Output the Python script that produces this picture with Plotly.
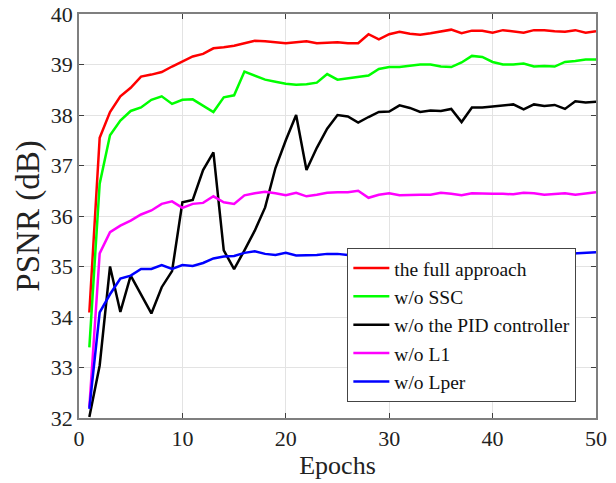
import plotly.graph_objects as go

epochs = list(range(1, 51))

full_approach = [34.09, 37.55, 38.06, 38.37, 38.54, 38.76, 38.80, 38.85, 38.96, 39.06,
                 39.16, 39.21, 39.32, 39.34, 39.37, 39.42, 39.47, 39.46, 39.44, 39.42,
                 39.44, 39.46, 39.42, 39.43, 39.44, 39.42, 39.42, 39.60, 39.50, 39.60,
                 39.65, 39.61, 39.59, 39.62, 39.65, 39.69, 39.62, 39.67, 39.67, 39.63,
                 39.68, 39.65, 39.63, 39.68, 39.68, 39.66, 39.65, 39.68, 39.63, 39.66]

wo_ssc = [33.40, 36.64, 37.60, 37.89, 38.08, 38.15, 38.30, 38.37, 38.22, 38.30,
          38.31, 38.18, 38.06, 38.35, 38.39, 38.86, 38.78, 38.70, 38.66, 38.62,
          38.60, 38.61, 38.64, 38.81, 38.70, 38.73, 38.76, 38.78, 38.91, 38.95,
          38.95, 38.98, 39.00, 39.00, 38.96, 38.95, 39.04, 39.17, 39.15, 39.05,
          39.00, 39.00, 39.02, 38.96, 38.97, 38.96, 39.05, 39.07, 39.10, 39.10]

wo_pid = [32.02, 33.04, 35.00, 34.10, 34.82, 34.45, 34.07, 34.59, 34.91, 36.27,
          36.32, 36.91, 37.26, 35.32, 34.95, 35.32, 35.71, 36.17, 36.95, 37.50,
          38.00, 36.91, 37.35, 37.73, 38.00, 37.97, 37.85, 37.96, 38.06, 38.07,
          38.19, 38.14, 38.06, 38.09, 38.08, 38.12, 37.86, 38.15, 38.15, 38.17,
          38.19, 38.21, 38.11, 38.21, 38.18, 38.20, 38.12, 38.27, 38.25, 38.26]

wo_l1 = [32.21, 35.26, 35.68, 35.81, 35.91, 36.03, 36.11, 36.24, 36.29, 36.16,
         36.24, 36.26, 36.39, 36.27, 36.24, 36.41, 36.45, 36.48, 36.45, 36.41,
         36.46, 36.39, 36.42, 36.46, 36.47, 36.47, 36.50, 36.36, 36.42, 36.45,
         36.41, 36.42, 36.42, 36.42, 36.46, 36.44, 36.41, 36.45, 36.44, 36.44,
         36.44, 36.43, 36.46, 36.45, 36.42, 36.44, 36.45, 36.42, 36.45, 36.47]

wo_lper = [32.18, 34.09, 34.45, 34.76, 34.82, 34.95, 34.95, 35.03, 34.95, 35.03,
           35.01, 35.07, 35.16, 35.20, 35.21, 35.27, 35.30, 35.25, 35.23, 35.27,
           35.22, 35.22, 35.23, 35.25, 35.25, 35.23, 35.22, 35.22, 35.23, 35.22,
           35.23, 35.23, 35.22, 35.23, 35.24, 35.24, 35.25, 35.23, 35.23, 35.23,
           35.24, 35.22, 35.25, 35.23, 35.25, 35.24, 35.25, 35.25, 35.26, 35.28]

series_names = ["the full approach", "w/o SSC", "w/o the PID controller", "w/o L1", "w/o Lper"]
series_values = [full_approach, wo_ssc, wo_pid, wo_l1, wo_lper]
series_colors = ["#ff0000", "#00ff00", "#000000", "#ff00ff", "#0000ff"]

x_ticks = [0, 10, 20, 30, 40, 50]
y_ticks = [32, 33, 34, 35, 36, 37, 38, 39, 40]

font_family = "Liberation Serif"

fig = go.Figure()
for name, vals, col in zip(series_names, series_values, series_colors):
    fig.add_trace(go.Scatter(x=epochs, y=vals, mode="lines", name=name,
                             line=dict(color=col, width=2.5)))

axis_common = dict(
    showline=True, linecolor="#7f7f7f", linewidth=1.5, mirror="allticks",
    ticks="inside", ticklen=5, tickcolor="#404040", tickwidth=1,
    showgrid=True, gridcolor="#e3e3e3", gridwidth=1, zeroline=False,
    automargin=False,
    tickfont=dict(family=font_family, size=22, color="#222222"),
)

fig.update_layout(
    width=616, height=483,
    margin=dict(l=79, r=20, t=14, b=65),
    paper_bgcolor="white", plot_bgcolor="white",
    font=dict(family=font_family, color="#222222"),
    xaxis=dict(range=[0, 50], tickvals=x_ticks,
               title=dict(text="Epochs", font=dict(family=font_family, size=26), standoff=6),
               **axis_common),
    yaxis=dict(range=[32, 40], tickvals=y_ticks,
               title=dict(text="PSNR (dB)", font=dict(family=font_family, size=33), standoff=1),
               **axis_common),
    legend=dict(x=0.962, y=0.04, xanchor="right", yanchor="bottom",
                bgcolor="white", bordercolor="#444444", borderwidth=1,
                font=dict(family=font_family, size=19.5, color="#111111"),
                tracegroupgap=0, itemwidth=36),
    showlegend=True,
)

fig.write_html("out.html", config={"displayModeBar": False},
               post_script="document.body.style.margin='0';")
